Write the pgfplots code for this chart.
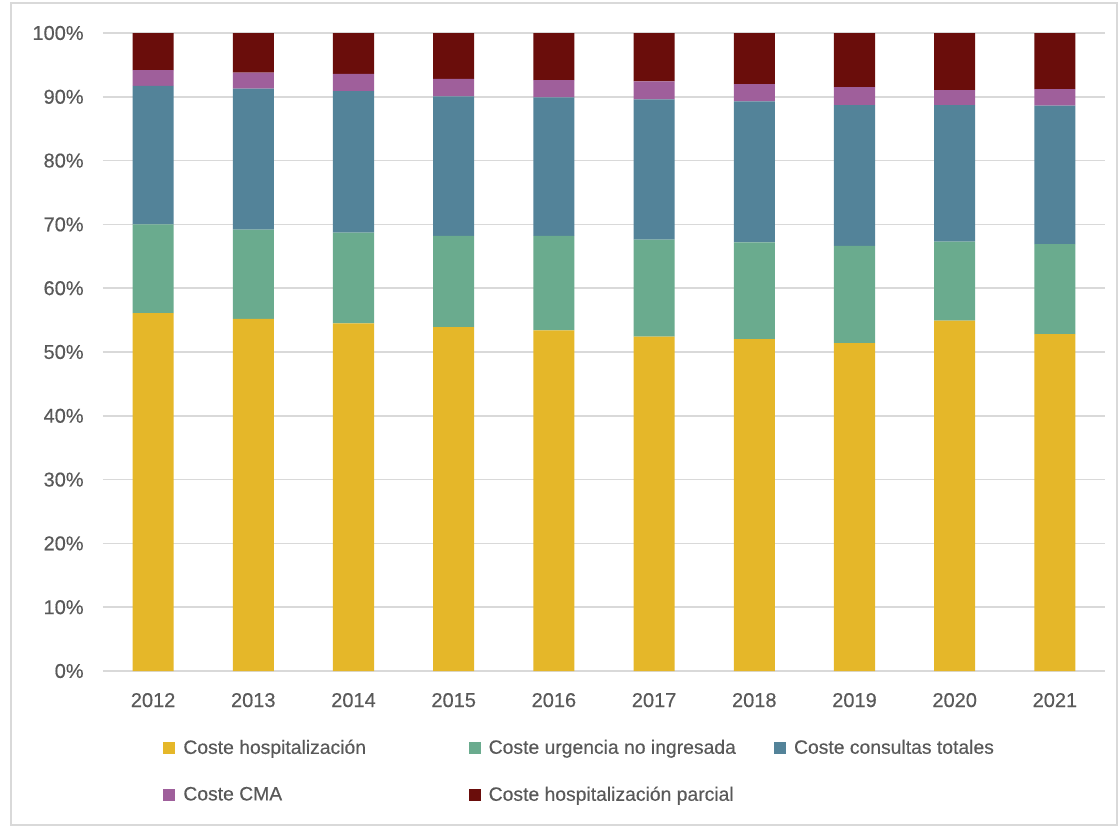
\documentclass[border=0pt]{standalone}
\usepackage{fontspec}
\setmainfont[FakeBold=0.4]{Liberation Sans}
\newfontfamily\legfont[FakeBold=0.4]{Liberation Sans}
\usepackage{pgfplots}
\pgfplotsset{compat=1.18}
\definecolor{cHosp}{HTML}{E5B729}
\definecolor{cUrg}{HTML}{6AAB8E}
\definecolor{cCons}{HTML}{538399}
\definecolor{cCMA}{HTML}{9F5F9B}
\definecolor{cParc}{HTML}{6A0D0B}
\definecolor{txt}{HTML}{595959}
\definecolor{grd}{HTML}{D9D9D9}
\begin{document}
\begin{tikzpicture}
\path[use as bounding box] (-77.25pt,-116.25pt) rectangle (761.25pt,503.25pt);
\draw[grd, line width=0.8pt] (-69pt,-115.5pt) rectangle (760.5pt,501pt);
\begin{axis}[
  at={(0,0)}, anchor=south west,
  scale only axis, width=751.5pt, height=478.5pt,
  ybar stacked, bar width=0.41,
  xmin=-0.5, xmax=9.5, ymin=0, ymax=100,
  xtick={0,...,9},
  xticklabels={2012,2013,2014,2015,2016,2017,2018,2019,2020,2021},
  ytick={0,10,...,100},
  yticklabels={0\%,10\%,20\%,30\%,40\%,50\%,60\%,70\%,80\%,90\%,100\%},
  axis line style={draw=none},
  major tick length=0pt,
  ymajorgrids, grid style={grd, line width=1.3pt},
  tick label style={font=\fontsize{15}{17}\selectfont, text=txt},
  xticklabel style={yshift=-13pt},
  yticklabel style={xshift=-11pt},
  legend columns=3,
  legend cell align=left,
  legend style={at={(0.06,-0.103)}, anchor=north west, draw=none, fill=none, inner sep=0pt,
    font=\legfont\fontsize{14.5}{17}\selectfont, text=txt, row sep=19pt,
    /tikz/every odd column/.append style={column sep=4pt}},
  legend image code/.code={\fill[#1] (0pt,-4.5pt) rectangle (9pt,4.5pt);},
]
\addplot[fill=cHosp, draw=none] coordinates {(0,56.1) (1,55.2) (2,54.5) (3,53.9) (4,53.4) (5,52.4) (6,52.0) (7,51.4) (8,54.9) (9,52.8)};
\addplot[fill=cUrg, draw=none] coordinates {(0,13.9) (1,14.0) (2,14.2) (3,14.3) (4,14.8) (5,15.2) (6,15.2) (7,15.25) (8,12.4) (9,14.1)};
\addplot[fill=cCons, draw=none] coordinates {(0,21.7) (1,22.1) (2,22.2) (3,21.85) (4,21.7) (5,22.0) (6,22.1) (7,22.05) (8,21.4) (9,21.7)};
\addplot[fill=cCMA, draw=none] coordinates {(0,2.5) (1,2.5) (2,2.7) (3,2.75) (4,2.7) (5,2.8) (6,2.7) (7,2.8) (8,2.35) (9,2.6)};
\addplot[fill=cParc, draw=none] coordinates {(0,5.8) (1,6.2) (2,6.4) (3,7.2) (4,7.4) (5,7.6) (6,8.0) (7,8.5) (8,8.95) (9,8.8)};
\addlegendentry{\makebox[212pt][l]{Coste hospitalización}}
\addlegendentry{\makebox[212pt][l]{Coste urgencia no ingresada}}
\addlegendentry{Coste consultas totales}
\addlegendentry{\makebox[212pt][l]{Coste CMA}}
\addlegendentry{\makebox[212pt][l]{Coste hospitalización parcial}}
\end{axis}
\end{tikzpicture}
\end{document}
